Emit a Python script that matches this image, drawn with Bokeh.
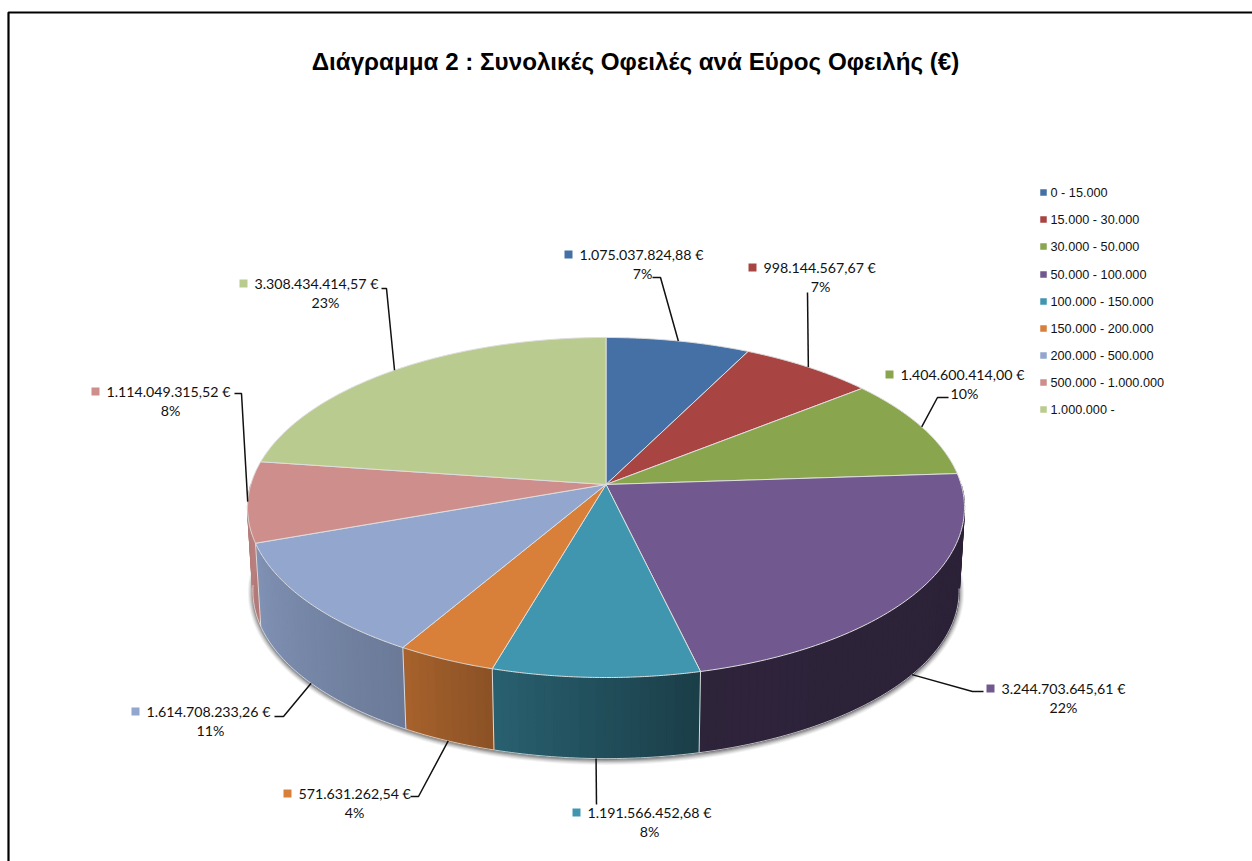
import numpy as np
from bokeh.plotting import figure
from bokeh.models import Range1d
from bokeh.core.properties import value
from bokeh.embed import file_html
from bokeh.resources import INLINE

# ---- data ----
title = "Διάγραμμα 2 : Συνολικές Οφειλές ανά Εύρος Οφειλής (€)"
categories = ["0 - 15.000", "15.000 - 30.000", "30.000 - 50.000", "50.000 - 100.000",
              "100.000 - 150.000", "150.000 - 200.000", "200.000 - 500.000",
              "500.000 - 1.000.000", "1.000.000 -"]
amounts = [1075037824.88, 998144567.67, 1404600414.00, 3244703645.61, 1191566452.68,
           571631262.54, 1614708233.26, 1114049315.52, 3308434414.57]
amount_labels = ["1.075.037.824,88 €", "998.144.567,67 €", "1.404.600.414,00 €", "3.244.703.645,61 €",
                 "1.191.566.452,68 €", "571.631.262,54 €", "1.614.708.233,26 €", "1.114.049.315,52 €",
                 "3.308.434.414,57 €"]
percent_labels = ["7%", "7%", "10%", "22%", "8%", "4%", "11%", "8%", "23%"]

# ---- style and layout ----
colors = ["#4570A5", "#A84442", "#89A54E", "#71588F", "#4096AE", "#D87F3A", "#92A6CE", "#CE8E8C", "#BACB90"]
wall_shade = [(.8, .7), (.8, .7), (.8, .7), (.41, .39), (.64, .42), (.77, .65), (.88, .74), (.9, .86), (.8, .8)]
W, H = 1252, 861
CX, CY = 605.5, 484.0      # pie apex on the page
A, B, K = 355.2, 166.9, 0.1353   # perspective projection of the unit disc
DEPTH, SHRINK = 84.0, 0.985

# label block: (marker x, first line y, second line centre x)
label_pos = [(568, 254, 642), (752, 267, 820), (889, 374, 964), (990, 688, 1063), (576, 812, 649),
             (287, 793, 354), (135, 711, 210), (95, 391, 170), (243, 283, 325)]
# leader elbows (from label to rim)
elbows = [[(652, 277), (660, 277)], [(807, 292)], [(948, 397), (937, 397)], [(983, 691), (972, 691)],
          [(596, 804)], [(410, 796), (418, 796)], [(274, 716), (283, 716)], [(234, 393), (241, 393)],
          [(381, 288), (386, 288)]]
legend_x, legend_text_x = 1043, 1050
legend_y = [192, 219, 246, 274, 301, 328, 355, 382, 409]
LABEL_FONT = value("Lato")
SANS = value("Liberation Sans")


def top_rim(t):
    u, v = np.sin(t), np.cos(t)
    d = 1 + K * v
    return CX + A * u / d, CY - B * v / d


def bottom_rim(t):
    x, y = top_rim(t)
    return CX + SHRINK * (x - CX), CY + DEPTH + SHRINK * (y - CY)


def mix(hex_color, f):
    r, g, b = (int(hex_color[i:i + 2], 16) for i in (1, 3, 5))
    return "#%02x%02x%02x" % (int(r * f), int(g * f), int(b * f))


p = figure(width=W, height=H, output_backend="svg", toolbar_location=None,
           x_range=Range1d(0, W), y_range=Range1d(H, 0), min_border=0,
           x_axis_type=None, y_axis_type=None, outline_line_color=None)
p.grid.visible = False
p.background_fill_color = "white"
p.border_fill_color = "white"

# frame
p.line([8, 8, W], [H, 12, 12], line_color="black", line_width=2.2)

p.text([635], [61], text=[title], text_font=SANS, text_font_style="bold", text_font_size="24.2px",
       text_align="center", text_baseline="middle", text_color="black")

# angles from values
amounts_arr = np.array(amounts)
edges = np.concatenate([[0], np.cumsum(amounts_arr)]) / amounts_arr.sum() * 2 * np.pi

# soft shadow under the cake
full = np.linspace(0, 2 * np.pi, 241)
bx, by = bottom_rim(full)
ox, oy = bx.mean(), by.mean()
for grow, alpha in [(5, .05), (4, .07), (3, .09), (2, .12), (1, .16)]:
    sx = ox + (bx - ox) * (1 + grow / 350)
    sy = oy + (by - oy) * (1 + grow / 170) + 1
    p.patch(sx, sy, fill_color="black", fill_alpha=alpha, line_color=None)

# side walls as shaded strips
for i in range(len(amounts)):
    a0, a1 = edges[i], edges[i + 1]
    lo, hi = max(a0, np.pi / 2), min(a1, 3 * np.pi / 2)
    if hi <= lo:
        continue
    n = max(2, int((hi - lo) / np.radians(1.2)))
    ts = np.linspace(lo, hi, n + 1)
    xs, ys, cols = [], [], []
    for j in range(n):
        tx0, ty0 = top_rim(ts[j])
        tx1, ty1 = top_rim(ts[j + 1])
        bx0, by0 = bottom_rim(ts[j])
        bx1, by1 = bottom_rim(ts[j + 1])
        xs.append([tx0, tx1, bx1, bx0])
        ys.append([ty0, ty1, by1, by0])
        # angle grows clockwise, so along the front the first sample is on the right
        frac = 1 - j / max(1, n - 1)
        f = wall_shade[i][0] + (wall_shade[i][1] - wall_shade[i][0]) * frac
        cols.append(mix(colors[i], f))
    p.patches(xs, ys, fill_color=cols, line_color=cols, line_width=1.2)

# rim highlights on the walls
fa = np.linspace(np.pi / 2 + 0.12, 3 * np.pi / 2 - 0.1, 200)
p.line(*bottom_rim(fa), line_color="#E2E2E2", line_width=1, line_alpha=.8)
for a in edges:
    if np.pi / 2 < a < 3 * np.pi / 2:
        tx, ty = top_rim(a)
        ux, uy = bottom_rim(a)
        p.line([tx, ux], [ty, uy], line_color="#DADADA", line_width=1)

# top face
for i in range(len(amounts)):
    ts = np.linspace(edges[i], edges[i + 1], 90)
    x, y = top_rim(ts)
    p.patch(np.concatenate([[CX], x]), np.concatenate([[CY], y]), fill_color=colors[i],
            line_color="#DEDEDE", line_width=1, line_join="round")

# leaders, labels
mids = (edges[:-1] + edges[1:]) / 2
for i in range(len(amounts)):
    in_front = np.cos(mids[i]) < -0.3
    end = bottom_rim(mids[i]) if in_front else top_rim(mids[i])
    pts = elbows[i] + [end]
    p.line([q[0] for q in pts], [q[1] for q in pts], line_color="#111111", line_width=1.5)
    mx, ly, cx2 = label_pos[i]
    p.scatter([mx], [ly], marker="square", size=8, fill_color=colors[i], line_color=None)
    p.text([mx + 11], [ly], text=[amount_labels[i]], text_font=LABEL_FONT, text_font_size="14.2px",
           text_baseline="middle", text_color="#111111")
    p.text([cx2], [ly + 18.5], text=[percent_labels[i]], text_font=LABEL_FONT, text_font_size="14.2px",
           text_align="center", text_baseline="middle", text_color="#111111")

# legend
p.scatter([legend_x] * len(categories), legend_y, marker="square", size=6.5, fill_color=colors, line_color=None)
p.text([legend_text_x] * len(categories), legend_y, text=categories, text_font=SANS, text_font_size="12.7px",
       text_baseline="middle", text_color="#111111")

page = file_html(p, INLINE)
page = page.replace("</head>", "<style>html,body{margin:0;padding:0;overflow:hidden}</style></head>", 1)
open("out.html", "w").write(page)
